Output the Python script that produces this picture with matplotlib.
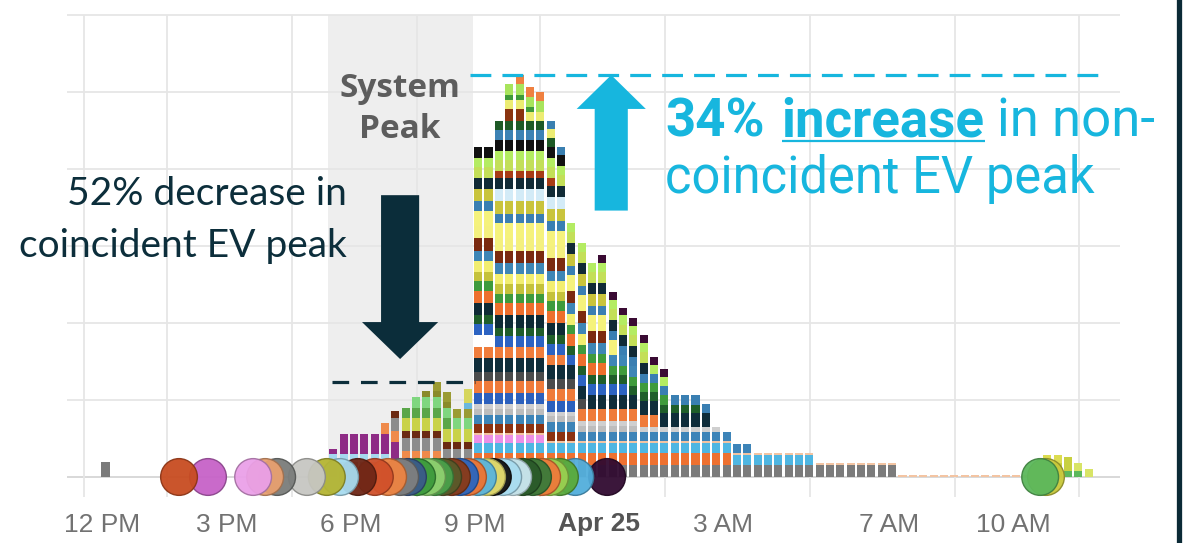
import numpy as np
import matplotlib.pyplot as plt
from matplotlib.patches import FancyArrow
from matplotlib.colors import to_rgb

plt.rcParams['lines.scale_dashes'] = False

# 15-minute slots, in hours after 12 PM (Apr 24)
slots = np.arange(0, 24, 0.25)

# Charging sessions, stacked bottom to top: start hour, end hour, kW, colour
session_start = [0.0, 5.5, 5.5, 5.5, 5.75, 6.75, 7.0, 7.0, 7.25, 7.25, 7.5, 7.75, 8.0, 8.75, 8.75,
                 9.0, 9.0, 9.0, 9.0, 9.0, 9.0, 9.0, 9.0, 9.0, 9.0,
                 9.0, 9.0, 9.0, 9.0, 9.0, 9.0, 9.0, 9.0, 9.0, 9.0,
                 9.0, 9.0, 9.0, 9.0, 9.0, 9.0, 9.0, 9.0, 9.5, 9.0,
                 9.5, 9.0, 9.0, 9.0, 9.5, 9.5, 9.75, 9.75, 9.75, 9.75,
                 10.0, 10.75, 12.0,
                 23.25, 22.75, 22.75, 23.5]
session_end = [0.25, 9.0, 7.0, 5.75, 7.25, 8.25, 9.0, 9.0, 9.0, 8.5, 9.0, 8.5, 9.0, 9.0, 9.0,
               19.25, 15.25, 17.25, 10.75, 22.75, 11.5, 15.75, 13.0, 15.0, 11.5,
               13.5, 11.75, 14.75, 11.25, 9.5, 12.75, 14.5, 11.25, 12.25, 13.75,
               11.25, 11.75, 13.0, 12.25, 11.25, 12.5, 14.75, 12.25, 11.25, 13.25,
               11.0, 13.25, 13.75, 11.25, 10.75, 11.0, 10.25, 11.0, 10.5, 10.75,
               10.75, 11.25, 13.75,
               23.75, 23.5, 23.25, 24.0]
session_kw = [10, 10, 5, 3, 13, 7, 8, 5, 8, 7, 7, 4, 6, 4, 9,
              7.8, 7.8, 6.5, 5, 1.3, 6, 6, 4, 3, 7,
              8, 6, 9, 7, 8, 7, 5.6, 8, 8, 6,
              6, 7, 7, 8, 8, 10, 6, 8, 8, 7,
              5, 7, 6, 7, 6, 6, 8, 6, 3, 7,
              6, 5, 5,
              4, 9, 5, 5]
session_color = ['#7a7a7a', '#8a8a8a', '#a5d8ee', '#8e2b85', '#8e2b85', '#ef8a4a', '#8c8c8c', '#6b2a12',
                 '#c9d24a', '#5aa64a', '#7fd67f', '#8a8a2a', '#9b9b33', '#6ab8de', '#d6d65c',
                 '#7b7b7b', '#ee7130', '#4fb6e2', '#ec90e6', '#f3c4a2', '#8c3212', '#3d84b8', '#bdbdbd', '#cfcfcf', '#2b60bd',
                 '#ef7b3a', '#4b4b4b', '#0f2d3a', '#ef7d3c', '#ffffff', '#2c63c2', '#1f5e2a', '#0e2a35', '#ee6f2d', '#3f9b3c',
                 '#c5c23a', '#f2ee70', '#3e86b6', '#7b2a10', '#f4f07e', '#f5f27c', '#3a7fb2', '#c9c43c', '#d3ebf7', '#102a36',
                 '#a83c16', '#c3df58', '#b4ec62', '#111111', '#3c82b4', '#1e5a26', '#8a3410', '#ecec72', '#3f9a3a', '#a8e45c',
                 '#ef8040', '#3a7fb0', '#3a0b33',
                 '#5cb85c', '#c8d040', '#dcdc50', '#d8e466']

# Plug-in times of the vehicles, shown as dots on the baseline
plugin_hours = [1.86, 2.56, 3.65, 3.94, 4.23, 4.95, 5.43, 5.75, 6.18, 6.59, 6.91, 7.20,
                7.39, 7.61, 7.85, 8.04, 8.24, 8.45, 8.65, 8.84, 9.08, 9.30, 9.44, 9.69,
                9.93, 10.17, 10.41, 10.63, 10.82, 11.06, 11.43, 12.20, 22.66, 22.80]
plugin_colors = ['#c84c20', '#c662c8', '#eaa0e8', '#e8a070', '#7a7c7a', '#c6c6c2', '#b4b432',
                 '#a8dcf0', '#6e2616', '#d0502a', '#ee8442', '#7f7f7f', '#3a5a8a', '#3c9a3c',
                 '#8ed070', '#4aa04a', '#5a5a2a', '#8a3a18', '#2a66c0', '#ee7433', '#5ab4dc',
                 '#e8e070', '#111111', '#a8dcf0', '#cde9f2', '#2a5a2a', '#3a7a3a', '#ee7a3a',
                 '#9ad050', '#5aaa3a', '#52aedc', '#300a30', '#5cb85c', '#c8c83a']

tick_hours = [0, 3, 6, 9, 12, 15, 19, 22]
tick_labels = ["12 PM", "3 PM", "6 PM", "9 PM", "Apr 25", "3 AM", "7 AM", "10 AM"]
grid_hours = [-0.43, 1.57, 4.59, 7.61, 10.58, 13.6, 17.1, 20.6, 23.6]
grid_kw = [50, 100, 150, 200, 250, 300]

system_peak = (5.45, 8.95)

cyan = '#17b6de'
navy = '#0c2e3b'


def darker(c, f=0.7):
    r, g, b = to_rgb(c)
    return (r * f, g * f, b * f)


fig = plt.figure(figsize=(11.95, 5.43), dpi=100)
ax = fig.add_axes([0, 43 / 543, 1, 500 / 543])
ax.set_xlim(-2.464, 26.40)
ax.set_ylim(-14.94, 309.74)
for s in ax.spines.values():
    s.set_visible(False)

# Grid and system peak window
ax.hlines(grid_kw, -0.85, 24.6, color='#e6e6e6', lw=1.3, zorder=0.5)
ax.hlines(0, -0.85, 24.6, color='#d6d6d6', lw=1.3, zorder=0.5)
ax.vlines(grid_hours, -13, 300, color='#e6e6e6', lw=1.3, zorder=0.5)
ax.fill_between(system_peak, 0, 300, color='#eeeeee', lw=0, zorder=0.2)

# Stacked session bars
bottom = np.zeros(len(slots))
for s, e, kw, c in zip(session_start, session_end, session_kw, session_color):
    on = (slots >= s) & (slots < e)
    ax.bar(slots[on] + 0.085, kw, width=0.195, bottom=bottom[on], color=c,
           linewidth=0, zorder=2)
    bottom[on] += kw

peak = bottom.max()
in_window = (slots >= 5.5) & (slots < 9.0)
window_peak = bottom[in_window].max()

# Plug-in dots, earlier ones drawn on top
ax.scatter(plugin_hours[::-1], [0] * len(plugin_hours), s=700,
           c=plugin_colors[::-1], edgecolors=[darker(c) for c in plugin_colors[::-1]],
           linewidths=1.0, alpha=0.95, zorder=3, clip_on=False)

# Peak reference lines
ax.plot([8.9, 24.2], [peak, peak], color=cyan, lw=2.3, dashes=(15, 8), zorder=4)
ax.plot([5.55, 9.0], [window_peak, window_peak], color=navy, lw=2.3, dashes=(12, 8.5), zorder=4)

# Arrows
ax.add_patch(FancyArrow(12.3, 173, 0, peak - 173, width=0.8, head_width=1.67,
                        head_length=22, length_includes_head=True, color=cyan, lw=0, zorder=4))
ax.add_patch(FancyArrow(7.2, 183, 0, 76.6 - 183, width=0.92, head_width=1.84,
                        head_length=24, length_includes_head=True, color='#0b2d3a', lw=0, zorder=4))

# Labels
ax.text(7.2, 246.8, "System", ha='center', va='baseline', fontsize=24, fontweight='bold',
        family='Open Sans', color='#5d5d5d', zorder=5)
ax.text(7.2, 220, "Peak", ha='center', va='baseline', fontsize=24, fontweight='bold',
        family='Open Sans', color='#5d5d5d', zorder=5)

ax.text(5.92, 176.6, "52% decrease in", ha='right', va='baseline', fontsize=28,
        family='Lato', color=navy, zorder=5)
ax.text(5.92, 142.9, "coincident EV peak", ha='right', va='baseline', fontsize=28,
        family='Lato', color=navy, zorder=5)

fig.canvas.draw()
r = fig.canvas.get_renderer()
inv = ax.transData.inverted()

t1 = ax.text(13.6, 221.4, "34%", ha='left', va='baseline', fontsize=38, fontweight='bold',
             family='Roboto', color=cyan, zorder=5)
bb = t1.get_window_extent(renderer=r)
x2 = inv.transform((bb.x1 + 17, bb.y0))[0]
t2 = ax.text(x2, 221.4, "increase", ha='left', va='baseline', fontsize=38, fontweight='bold',
             family='Roboto', color=cyan, zorder=5)
bb2 = t2.get_window_extent(renderer=r)
u0 = inv.transform((bb2.x0, 0))[0]
u1 = inv.transform((bb2.x1, 0))[0]
ax.plot([u0, u1], [218.2, 218.2], color=cyan, lw=1.6, zorder=5, solid_capstyle='butt')
x3 = inv.transform((bb2.x1 + 12, bb2.y0))[0]
ax.text(x3, 221.4, "in non-", ha='left', va='baseline', fontsize=38,
        family='Roboto', color=cyan, zorder=5)
ax.text(13.6, 184.4, "coincident EV peak", ha='left', va='baseline', fontsize=36.5,
        family='Roboto', color=cyan, zorder=5)

# Time axis
ax.set_yticks([])
ax.set_xticks(tick_hours)
ax.set_xticklabels(tick_labels, family='Liberation Sans')
ax.tick_params(axis='x', length=0, pad=9, labelsize=19, labelcolor='#727272')
for lab in ax.get_xticklabels():
    if lab.get_text() == "Apr 25":
        lab.set_fontweight('bold')
        lab.set_color('#555555')

# Right-hand frame edge
fig.add_artist(plt.Line2D([1179 / 1195, 1179 / 1195], [0, 1], color='#0b2a36', lw=3.8))

fig.savefig('out.png', dpi=100)
